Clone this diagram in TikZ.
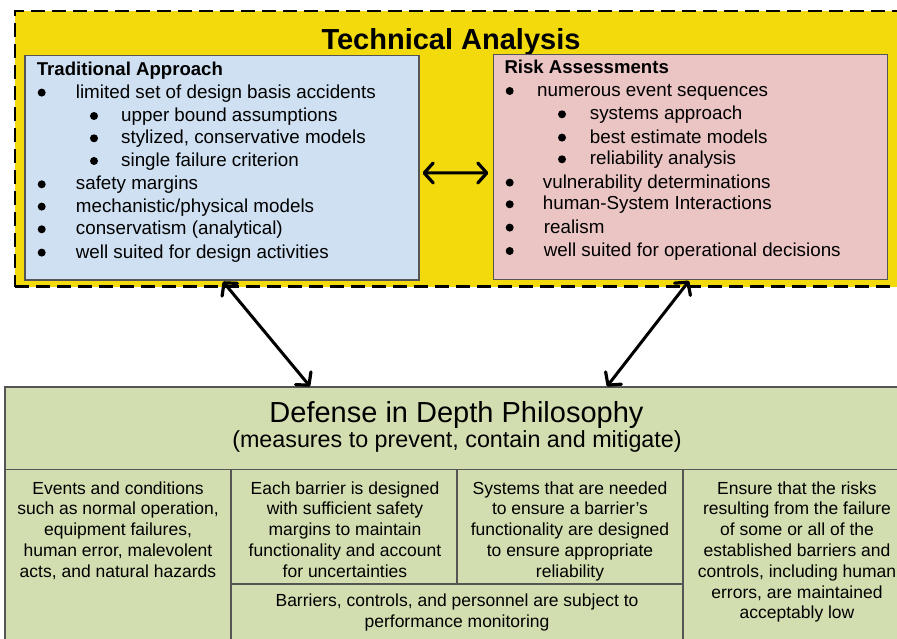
\documentclass[tikz,border=0pt]{standalone}
\usepackage{fontspec}
\setmainfont{Liberation Sans}
\usetikzlibrary{arrows.meta}
\definecolor{ylw}{HTML}{F2DA0C}
\definecolor{bluf}{HTML}{CFE0F2}
\definecolor{pinkf}{HTML}{EBC4C4}
\definecolor{grnf}{HTML}{D2DEB0}
\definecolor{edgec}{HTML}{555555}
\begin{document}
\begin{tikzpicture}[x=1pt,y=-1pt,
  panel/.style={draw=edgec,line width=1.2pt,inner sep=0pt,rectangle},
  listtxt/.style={anchor=base west,inner sep=0pt,font=\fontsize{18.8}{22}\selectfont},
  listhead/.style={anchor=base west,inner sep=0pt,font=\fontsize{18.6}{22}\selectfont\bfseries},
  bul/.style={circle,fill=black,inner sep=0pt,minimum size=8pt},
  celltxt/.style={anchor=base,inner sep=0pt,align=center,font=\fontsize{17.5}{20.8}\selectfont},
  tipb/.tip={Straight Barb[length=9pt,width=20pt,line width=3.2pt,round]},
  dbl/.style={tipb-tipb,line width=3pt},
  divider/.style={draw=edgec,line width=1.2pt}]
\useasboundingbox (0,0) rectangle (897,639);

% Technical analysis frame
\node[rectangle,fill=ylw,draw=black,line width=2.8pt,dash pattern=on 14pt off 7pt,
  minimum width=885pt,minimum height=275.7pt,inner sep=0pt] (tech) at (457.5,148.85) {};
\node[anchor=base,inner sep=0pt,font=\fontsize{29}{34}\selectfont\bfseries] (techtitle) at (451,49.3) {Technical Analysis};

% Traditional approach
\node[panel,fill=bluf,minimum width=394pt,minimum height=224.7pt] (blue) at (222,167.65) {};
\node[listhead] (tahead) at (36.7,76) {Traditional Approach};
\foreach \bx/\tx/\by/\tt [count=\i] in {
  41.7/75.7/98.3/{limited set of design basis accidents},
  94/121/121.7/{upper bound assumptions},
  94/121/144/{stylized, conservative models},
  94/121/166.7/{single failure criterion},
  41.7/75.7/190/{safety margins},
  41.7/75.7/212.3/{mechanistic/physical models},
  41.7/75.7/235/{conservatism (analytical)},
  41.7/75.7/258.3/{well suited for design activities}}{
  \node[bul] (tab\i) at (\bx,\by-5.7) {};
  \node[listtxt] (tat\i) at (\tx,\by) {\tt};
}

% Risk assessments
\node[panel,fill=pinkf,minimum width=394pt,minimum height=225pt] (pink) at (690.7,166.8) {};
\node[listhead] (rahead) at (504.3,74) {Risk Assessments};
\foreach \bx/\tx/\by/\tt [count=\i] in {
  509.7/537/96.7/{numerous event sequences},
  562/589.7/120/{systems approach},
  562/589.7/143.3/{best estimate models},
  562/589.7/165/{reliability analysis},
  509.7/542.7/188.3/{vulnerability determinations},
  509.7/542.7/210/{human-System Interactions},
  509.7/543.7/233.3/{realism},
  509.7/543.7/256.7/{well suited for operational decisions}}{
  \node[bul] (rab\i) at (\bx,\by-5.7) {};
  \node[listtxt] (rat\i) at (\tx,\by) {\tt};
}

% Defense in depth
\node[panel,fill=grnf,minimum width=895pt,minimum height=258pt] (green) at (452.5,516) {};
\draw[divider] (5,469.5) -- (900,469.5);
\draw[divider] (231,469.5) -- (231,645);
\draw[divider] (683,469.5) -- (683,645);
\draw[divider] (457,469.5) -- (457,584);
\draw[divider] (231,584) -- (683,584);
\node[anchor=base,inner sep=0pt,font=\fontsize{29}{34}\selectfont] (didtitle) at (456.5,422.7) {Defense in Depth Philosophy};
\node[anchor=base,inner sep=0pt,font=\fontsize{23.3}{28}\selectfont] (didsub) at (457,447.5) {(measures to prevent, contain and mitigate)};
% anchor=base of a multi-line node is the baseline of its last line
\node[celltxt] (c1) at (118,577.2) {Events and conditions\\such as normal operation,\\equipment failures,\\human error, malevolent\\acts, and natural hazards};
\node[celltxt] (c2) at (345,577.2) {Each barrier is designed\\with sufficient safety\\margins to maintain\\functionality and account\\for uncertainties};
\node[celltxt] (c3) at (570,577.2) {Systems that are needed\\to ensure a barrier’s\\functionality are designed\\to ensure appropriate\\reliability};
\node[celltxt] (c4) at (797,618.8) {Ensure that the risks\\resulting from the failure\\of some or all of the\\established barriers and\\controls, including human\\errors, are maintained\\acceptably low};
\node[celltxt] (c5) at (457,627) {Barriers, controls, and personnel are subject to\\performance monitoring};

% Connectors
\draw[dbl] ([xshift=3pt,yshift=-5.3pt]blue.east) -- ([xshift=-4.7pt,yshift=-6.2pt]pink.west);
\draw[dbl] ([xshift=1pt,yshift=-1pt]blue.south) -- ([xshift=-142.5pt]green.north);
\draw[dbl] ([xshift=-1.7pt,yshift=-1pt]pink.south) -- ([xshift=154.5pt]green.north);
\end{tikzpicture}
\end{document}
